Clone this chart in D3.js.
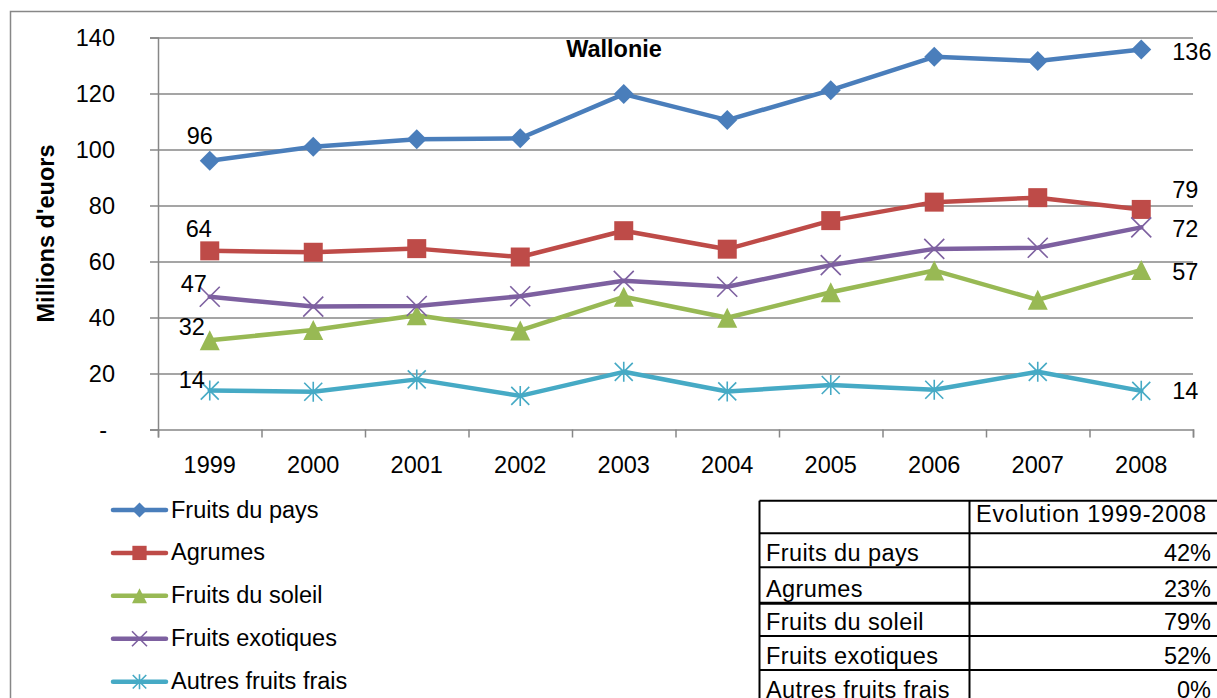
<!DOCTYPE html>
<html><head><meta charset="utf-8">
<script src="https://cdn.jsdelivr.net/npm/d3@7"></script>
<style>
body{margin:0;background:#fff}
svg{display:block;font-family:"Liberation Sans",Arial,sans-serif}
</style>
</head><body>
<svg id="c" width="1217" height="698"></svg>
<script>
// ---------- data ----------
const years = ["1999","2000","2001","2002","2003","2004","2005","2006","2007","2008"];
const seriesNames = ["Fruits du pays","Agrumes","Fruits du soleil","Fruits exotiques","Autres fruits frais"];
const fruitsDuPays      = [96, 101, 103.7, 104, 119.8, 110.5, 121.2, 133.1, 131.6, 135.7];
const agrumes           = [63.8, 63.3, 64.6, 61.6, 71, 64.4, 74.6, 81.2, 82.8, 78.6];
const fruitsDuSoleil    = [31.9, 35.5, 40.8, 35.4, 47.4, 39.9, 49, 56.8, 46.3, 57];
const fruitsExotiques   = [47.4, 43.9, 44.1, 47.6, 53.1, 51, 58.7, 64.5, 64.9, 72.2];
const autresFruitsFrais = [13.9, 13.5, 17.9, 12, 20.6, 13.6, 15.9, 14.2, 20.6, 13.8];
const yTicks = [0, 20, 40, 60, 80, 100, 120, 140];
const chartTitle = "Wallonie";
const yAxisTitle = "Millions d'euors";
const tableHeader = "Evolution 1999-2008";
const evolutionLabels = ["42%", "23%", "79%", "52%", "0%"];

const seriesValues = [fruitsDuPays, agrumes, fruitsDuSoleil, fruitsExotiques, autresFruitsFrais];

// ---------- style ----------
const colors = ["#4a7ebb", "#be4b48", "#98b954", "#7d60a0", "#46aac5"];
const markerTypes = ["diamond", "square", "triangle", "x", "star"];
const firstLabelOffset = [[-10,-17],[-11,-14],[-18,-5],[-16,-5],[-18,-3]];
const lastLabelDy = [10, -11, 10, 10, 8];
const FS = 23.5;
const gridColor = "#878787";

const svg = d3.select("#c");

// outer frame
svg.append("rect").attr("x", 10.5).attr("y", 11.5).attr("width", 1300).attr("height", 800)
  .attr("fill", "none").attr("stroke", gridColor).attr("stroke-width", 1.5);

const pLeft = 158, pRight = 1193, pTop = 37.5, pBottom = 429.5;
const x = d3.scaleBand().domain(years).range([pLeft, pRight]);
const y = d3.scaleLinear().domain([0, 140]).range([pBottom, pTop]);
const xi = d3.scaleLinear().domain([0, years.length]).range([pLeft, pRight]);

// gridlines
svg.append("g").attr("transform", `translate(${pLeft},0)`)
  .call(d3.axisLeft(y).tickValues(yTicks.filter(d => d > 0)).tickSize(-(pRight - pLeft)).tickFormat(""))
  .call(g => g.select(".domain").remove())
  .call(g => g.selectAll("line").attr("stroke", gridColor).attr("stroke-width", 1.5));

// y axis
svg.append("g").attr("transform", `translate(${pLeft},0)`)
  .call(d3.axisLeft(y).tickValues(yTicks).tickSize(8).tickPadding(35)
    .tickFormat(d => d === 0 ? "-" : d))
  .call(g => g.select(".domain").attr("stroke", gridColor).attr("stroke-width", 1.5))
  .call(g => g.selectAll("line").attr("stroke", gridColor).attr("stroke-width", 1.5))
  .call(g => g.selectAll("text").attr("font-size", FS).attr("fill", "#000")
     .attr("font-family", "Liberation Sans, Arial, sans-serif").attr("dy", "0.36em"))
  .call(g => g.selectAll(".tick").filter(d => d === 0).select("text").attr("x", -51));

// x axis boundary ticks
svg.append("g").attr("transform", `translate(0,${pBottom})`)
  .call(d3.axisBottom(xi).tickValues(d3.range(years.length + 1)).tickSize(8).tickFormat(""))
  .call(g => g.select(".domain").attr("stroke", gridColor).attr("stroke-width", 1.5))
  .call(g => g.selectAll("line").attr("stroke", gridColor).attr("stroke-width", 1.5));

// x axis labels
svg.append("g").attr("transform", `translate(0,${pBottom})`)
  .call(d3.axisBottom(x).tickSize(0))
  .call(g => g.select(".domain").remove())
  .call(g => g.selectAll("text").attr("font-size", FS).attr("fill", "#000")
     .attr("font-family", "Liberation Sans, Arial, sans-serif").attr("y", 43.5).attr("dy", 0));

// titles
svg.append("text").attr("x", 614).attr("y", 56.5).attr("text-anchor", "middle")
  .attr("font-size", FS).attr("font-weight", "bold").text(chartTitle);
svg.append("text").attr("transform", `translate(53.5,${(pTop + pBottom) / 2}) rotate(-90)`)
  .attr("text-anchor", "middle").attr("font-size", FS).attr("font-weight", "bold").text(yAxisTitle);

// markers
function marker(sel, type, color, r) {
  if (type === "diamond") {
    sel.append("path").attr("d", `M0,${-r}L${r},0L0,${r}L${-r},0Z`).attr("fill", color);
  } else if (type === "square") {
    const s = r * 0.95;
    sel.append("rect").attr("x", -s).attr("y", -s).attr("width", 2 * s).attr("height", 2 * s).attr("fill", color);
  } else if (type === "triangle") {
    sel.append("path").attr("d", `M0,${-r}L${r},${r}L${-r},${r}Z`).attr("fill", color);
  } else if (type === "x") {
    sel.append("path").attr("d", `M${-r},${-r}L${r},${r}M${r},${-r}L${-r},${r}`)
      .attr("stroke", color).attr("stroke-width", 1.6).attr("fill", "none");
  } else if (type === "star") {
    const a = r * 0.9;
    sel.append("path").attr("d", `M${-a},${-a}L${a},${a}M${a},${-a}L${-a},${a}M0,${-r}L0,${r}`)
      .attr("stroke", color).attr("stroke-width", 1.6).attr("fill", "none");
  }
}

const line = d3.line().x((d, i) => x(years[i]) + x.bandwidth() / 2).y(d => y(d));

seriesValues.forEach((vals, s) => {
  const g = svg.append("g");
  g.append("path").attr("d", line(vals)).attr("fill", "none").attr("stroke", colors[s])
    .attr("stroke-width", 4.5).attr("stroke-linejoin", "round").attr("stroke-linecap", "round");
  vals.forEach((v, i) => {
    const m = g.append("g").attr("transform", `translate(${x(years[i]) + x.bandwidth() / 2},${y(v)})`);
    marker(m, markerTypes[s], colors[s], 10);
  });
  const px0 = x(years[0]) + x.bandwidth() / 2;
  g.append("text").attr("x", px0 + firstLabelOffset[s][0]).attr("y", y(vals[0]) + firstLabelOffset[s][1])
    .attr("text-anchor", "middle").attr("font-size", FS).text(Math.round(vals[0]));
  const n = vals.length - 1;
  const pxn = x(years[n]) + x.bandwidth() / 2;
  g.append("text").attr("x", pxn + 31).attr("y", y(vals[n]) + lastLabelDy[s])
    .attr("font-size", FS).text(Math.round(vals[n]));
});

// legend
const legY = d3.scalePoint().domain(seriesNames).range([510, 681.7]);
seriesNames.forEach((name, s) => {
  const g = svg.append("g").attr("transform", `translate(0,${legY(name)})`);
  g.append("line").attr("x1", 113).attr("x2", 166).attr("stroke", colors[s]).attr("stroke-width", 4.5)
    .attr("stroke-linecap", "round");
  const m = g.append("g").attr("transform", "translate(139.5,0)");
  marker(m, markerTypes[s], colors[s], 7.5);
  g.append("text").attr("x", 171).attr("y", 7.5).attr("font-size", FS).text(name);
});

// table
const rowLines = [500.7, 533.3, 567.3, 603.3, 636, 670, 704];
const tl = 759.5, tm = 969.5, tr = 1230;
const tg = svg.append("g");
rowLines.forEach((ry, i) => {
  tg.append("line").attr("x1", tl).attr("x2", tr).attr("y1", ry).attr("y2", ry)
    .attr("stroke", "#000").attr("stroke-width", i === 3 ? 3 : 2);
});
[tl, tm].forEach(cx => tg.append("line").attr("x1", cx).attr("x2", cx)
  .attr("y1", rowLines[0]).attr("y2", 710).attr("stroke", "#000").attr("stroke-width", 2));
tg.append("text").attr("x", 976).attr("y", 522).attr("font-size", FS).attr("letter-spacing", 0.8).text(tableHeader);
seriesNames.forEach((name, i) => {
  const by = rowLines[i + 2] - 6.3;
  tg.append("text").attr("x", 766).attr("y", by).attr("font-size", FS).attr("letter-spacing", 0.4).text(name);
  tg.append("text").attr("x", 1211).attr("y", by).attr("text-anchor", "end").attr("font-size", FS).text(evolutionLabels[i]);
});
</script>
</body></html>
